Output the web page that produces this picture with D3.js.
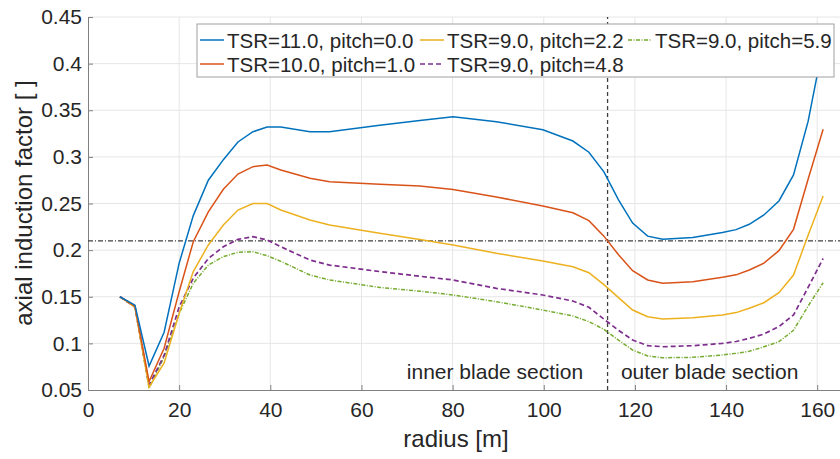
<!DOCTYPE html>
<html>
<head>
<meta charset="utf-8">
<script src="https://cdn.jsdelivr.net/npm/d3@7"></script>
<style>
  body { margin: 0; background: #ffffff; }
  svg { font-family: "Liberation Sans", Arial, sans-serif; }
</style>
</head>
<body>
<div class="vis"></div>
<script>
// radial stations [m]
var radius = [7, 10.3, 13.4, 16.7, 20, 23.1, 26.4, 29.7, 32.9, 36.2, 39.3, 42.3, 48.7, 53, 64, 72.8, 80.1, 89.6,
              99.8, 106.4, 109.9, 113.2, 116.4, 119.5, 122.8, 126.1, 132.7, 139.2, 142.2, 145.1, 148.3, 151.6,
              154.8, 158, 161.3];

// axial induction factor per operating point
var tsr11_p00 = [0.15, 0.141, 0.0757, 0.112, 0.186, 0.237, 0.275, 0.297, 0.316, 0.327, 0.332, 0.332, 0.327, 0.327,
                 0.334, 0.339, 0.343, 0.3377, 0.329, 0.317, 0.305, 0.284, 0.254, 0.229, 0.215, 0.2116, 0.2135,
                 0.219, 0.222, 0.2277, 0.2377, 0.2527, 0.2806, 0.338, 0.42];
var tsr10_p10 = [0.15, 0.14, 0.059, 0.0947, 0.1554, 0.209, 0.241, 0.2652, 0.2816, 0.2895, 0.2913, 0.286, 0.277,
                 0.2734, 0.2706, 0.2688, 0.265, 0.257, 0.2473, 0.24, 0.2316, 0.215, 0.195, 0.178, 0.168, 0.1644,
                 0.166, 0.1708, 0.1735, 0.1787, 0.186, 0.1994, 0.2223, 0.276, 0.3296];
var tsr9_p22  = [0.15, 0.139, 0.053, 0.079, 0.132, 0.177, 0.2055, 0.227, 0.243, 0.25, 0.25, 0.243, 0.2323, 0.227,
                 0.218, 0.2115, 0.2055, 0.1966, 0.1883, 0.1822, 0.1758, 0.163, 0.149, 0.1358, 0.1286, 0.1261,
                 0.1275, 0.1304, 0.133, 0.1376, 0.1436, 0.1543, 0.1733, 0.216, 0.258];
var tsr9_p48  = [0.15, 0.139, 0.0554, 0.087, 0.139, 0.17, 0.191, 0.2036, 0.2116, 0.2144, 0.2109, 0.2036, 0.1894,
                 0.184, 0.177, 0.172, 0.168, 0.159, 0.1519, 0.1454, 0.1387, 0.126, 0.114, 0.1036, 0.0975, 0.0964,
                 0.0975, 0.1, 0.102, 0.1054, 0.11, 0.118, 0.1304, 0.16, 0.191];
var tsr9_p59  = [0.15, 0.139, 0.0518, 0.0857, 0.132, 0.1644, 0.184, 0.193, 0.1977, 0.1983, 0.194, 0.188, 0.1733,
                 0.168, 0.16, 0.156, 0.1519, 0.1447, 0.1358, 0.1294, 0.1233, 0.115, 0.1035, 0.0929, 0.0865, 0.0846,
                 0.085, 0.0875, 0.0893, 0.0915, 0.0964, 0.1018, 0.114, 0.14, 0.165];

var seriesNames = ["TSR=11.0, pitch=0.0", "TSR=10.0, pitch=1.0", "TSR=9.0, pitch=2.2",
                   "TSR=9.0, pitch=4.8", "TSR=9.0, pitch=5.9"];

var xTicks = [0, 20, 40, 60, 80, 100, 120, 140, 160];
var yTicks = [0.05, 0.1, 0.15, 0.2, 0.25, 0.3, 0.35, 0.4, 0.45];

var thresholdA  = 0.21;   // horizontal reference
var sectionR    = 114;    // inner / outer split
var sectionText = [{label: "inner blade section", r: 89.3}, {label: "outer blade section", r: 136.4}];

// layout
var W = 840, H = 459;
var margin = {left: 88, top: 17, right: 0, bottom: 69};

var svg = d3.select('div.vis')
            .append('svg')
            .attr('width', W)
            .attr('height', H);

var x = d3.scaleLinear().domain([0, 165]).range([margin.left, W - margin.right]);
var y = d3.scaleLinear().domain([0.05, 0.45]).range([H - margin.bottom, margin.top]);

var textCol = "#262626";

// grid
var grid = svg.append('g');
grid.selectAll('line.gx')
    .data(xTicks.slice(1))
    .enter().append('line')
      .attr('x1', d => x(d)).attr('x2', d => x(d))
      .attr('y1', y(0.05)).attr('y2', y(0.45))
      .attr('stroke', '#e6e6e6').attr('stroke-width', 1);
grid.selectAll('line.gy')
    .data(yTicks.slice(1))
    .enter().append('line')
      .attr('x1', x(0)).attr('x2', W)
      .attr('y1', d => y(d)).attr('y2', d => y(d))
      .attr('stroke', '#e6e6e6').attr('stroke-width', 1);

// axes (ticks inward like matlab)
var xAxis = svg.append('g')
               .attr('transform', 'translate(0,' + y(0.05) + ')')
               .call(d3.axisBottom(x).tickValues(xTicks).tickSizeInner(-5).tickSizeOuter(0).tickPadding(12));
var yAxis = svg.append('g')
               .attr('transform', 'translate(' + x(0) + ',0)')
               .call(d3.axisLeft(y).tickValues(yTicks).tickFormat(d3.format('~g')).tickSizeInner(-5).tickSizeOuter(0).tickPadding(6));

[xAxis, yAxis].forEach(function(ax) {
    ax.select('.domain').attr('stroke', '#808080');
    ax.selectAll('.tick line').attr('stroke', '#808080');
    ax.selectAll('.tick text').attr('fill', textCol).style('font-size', '21px');
});

// reference lines
svg.append('line')
   .attr('x1', x(0)).attr('x2', W)
   .attr('y1', y(thresholdA)).attr('y2', y(thresholdA))
   .attr('stroke', '#404040').attr('stroke-width', 1.2)
   .attr('stroke-dasharray', '5,2,1,2');
svg.append('line')
   .attr('x1', x(sectionR)).attr('x2', x(sectionR))
   .attr('y1', y(0.05)).attr('y2', y(0.45))
   .attr('stroke', '#404040').attr('stroke-width', 1.3)
   .attr('stroke-dasharray', '4,3');

// curves
var styles = [
    {color: '#0072BD', dash: null,          width: 1.5},
    {color: '#D95319', dash: null,          width: 1.5},
    {color: '#EDB120', dash: null,          width: 1.5},
    {color: '#7E2F8E', dash: '5,3',         width: 1.7},
    {color: '#77AC30', dash: '4,1.5,1,1.5', width: 1.5}
];
var allSeries = [tsr11_p00, tsr10_p10, tsr9_p22, tsr9_p48, tsr9_p59];

var line = d3.line()
             .x(function(d, i) { return x(radius[i]); })
             .y(function(d) { return y(d); });

var curves = svg.append('g');
// draw in reverse so blue sits on top
for (var k = allSeries.length - 1; k >= 0; k--) {
    curves.append('path')
          .datum(allSeries[k])
          .attr('d', line)
          .attr('fill', 'none')
          .attr('stroke', styles[k].color)
          .attr('stroke-width', styles[k].width)
          .attr('stroke-dasharray', styles[k].dash);
}

// section annotations
svg.selectAll('text.sect')
   .data(sectionText)
   .enter().append('text')
     .attr('x', d => x(d.r))
     .attr('y', y(0.0615))
     .attr('text-anchor', 'middle')
     .attr('fill', textCol)
     .style('font-size', '21px')
     .text(d => d.label);

// axis labels
svg.append('text')
   .attr('x', (x(0) + W) / 2 - 8)
   .attr('y', 447)
   .attr('text-anchor', 'middle')
   .attr('fill', textCol)
   .style('font-size', '24px')
   .text('radius [m]');
svg.append('text')
   .attr('transform', 'translate(32,' + 203 + ') rotate(-90)')
   .attr('text-anchor', 'middle')
   .attr('fill', textCol)
   .style('font-size', '24px')
   .text('axial induction factor [ ]');

// legend
var legend = svg.append('g').attr('transform', 'translate(197,24)');
legend.append('rect')
      .attr('width', 637).attr('height', 53)
      .attr('fill', '#ffffff').attr('stroke', '#a0a0a0').attr('stroke-width', 1);

var legendPos = [[3, 16], [3, 40], [223, 16], [223, 40], [431, 16]];
seriesNames.forEach(function(name, k) {
    var g = legend.append('g').attr('transform', 'translate(' + legendPos[k][0] + ',' + legendPos[k][1] + ')');
    g.append('line')
     .attr('x1', 0).attr('x2', 24).attr('y1', 0).attr('y2', 0)
     .attr('stroke', styles[k].color)
     .attr('stroke-width', styles[k].width)
     .attr('stroke-dasharray', styles[k].dash);
    g.append('text')
     .attr('x', 27).attr('y', 7.5)
     .attr('fill', textCol)
     .style('font-size', '20.5px')
     .text(name);
});
</script>
</body>
</html>
